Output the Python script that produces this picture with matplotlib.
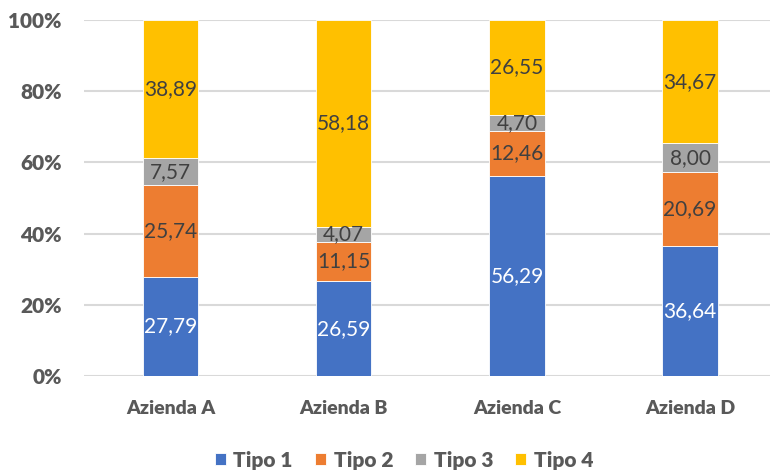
import matplotlib.pyplot as plt
import numpy as np

# dati
aziende = ['Azienda A', 'Azienda B', 'Azienda C', 'Azienda D']
tipo1 = [27.79, 26.59, 56.29, 36.64]
tipo2 = [25.74, 11.15, 12.46, 20.69]
tipo3 = [7.57, 4.07, 4.70, 8.00]
tipo4 = [38.89, 58.18, 26.55, 34.67]
serie = ['Tipo 1', 'Tipo 2', 'Tipo 3', 'Tipo 4']
colori = ['#4472C4', '#ED7D31', '#A5A5A5', '#FFC000']

plt.rcParams['font.family'] = ['Lato', 'DejaVu Sans']

valori = np.array([tipo1, tipo2, tipo3, tipo4])
quote = valori / valori.sum(axis=0) * 100

fig = plt.figure(figsize=(7.7, 4.72), dpi=100)
ax = fig.add_axes([84 / 770, 1 - 376 / 472, (770 - 84) / 770, 356 / 472])

x = np.arange(len(aziende))
base = np.zeros(len(aziende))
barre = []
for i, nome in enumerate(serie):
    b = ax.bar(x, quote[i], 0.32, bottom=base, color=colori[i],
               edgecolor='white', linewidth=0.6, label=nome, zorder=3)
    barre.append(b)
    col_testo = 'white' if i == 0 else '#404040'
    for xi, yb, h, v in zip(x, base, quote[i], valori[i]):
        ax.text(xi, yb + h / 2, f'{v:.2f}'.replace('.', ','), ha='center',
                va='center', fontsize=15, color=col_testo, zorder=4)
    base += quote[i]

ax.set_ylim(0, 100)
ax.set_xlim(-0.5, (770 - 170.5) / 173.2)
ax.set_yticks([0, 20, 40, 60, 80, 100])
ax.set_yticklabels(['0%', '20%', '40%', '60%', '80%', '100%'])
ax.set_xticks(x)
ax.set_xticklabels(aziende)
for lab in ax.get_xticklabels():
    lab.set_fontweight('heavy')
    lab.set_fontsize(14)
    lab.set_color('#595959')
for lab in ax.get_yticklabels():
    lab.set_fontweight('heavy')
    lab.set_fontsize(15)
    lab.set_color('#595959')
ax.tick_params(length=0)
ax.tick_params(axis='x', pad=17)
ax.tick_params(axis='y', pad=16)
ax.grid(axis='y', color='#d9d9d9', linewidth=1.5, zorder=0)
for s in ax.spines.values():
    s.set_visible(False)

leg = fig.legend(handles=barre, labels=serie, loc='center',
                 bbox_to_anchor=(404 / 770, 1 - 460 / 472), ncol=4,
                 frameon=False, handlelength=0.55, handleheight=0.55,
                 handletextpad=0.35, columnspacing=1.05,
                 prop={'weight': 'heavy', 'size': 15})
for t in leg.get_texts():
    t.set_color('#595959')

fig.savefig('out.png', dpi=100)
